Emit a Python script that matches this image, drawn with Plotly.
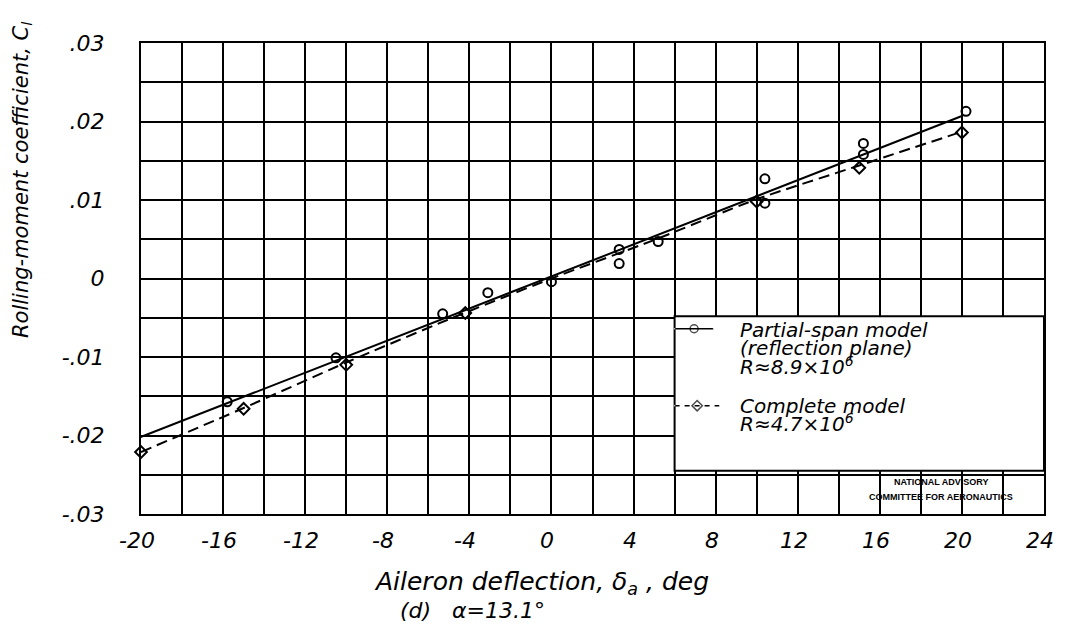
import plotly.graph_objects as go

# --- data ---
# partial-span model (reflection plane), open circles
partial_x = [-21, -15.8, -10.5, -5.3, -3.1, 0, 3.3, 3.3, 5.2, 10.4, 10.4, 15.2, 15.2, 20.2]
partial_y = [-0.0214, -0.0157, -0.0101, -0.0045, -0.0018, -0.0004, 0.0037, 0.0019,
             0.0047, 0.0127, 0.0096, 0.0172, 0.0158, 0.0213]
# complete model, diamonds
complete_x = [-20, -15, -10, -4.2, 10, 15, 20]
complete_y = [-0.0221, -0.0166, -0.0110, -0.0044, 0.0098, 0.0141, 0.0186]

# faired curves
solid_x = [-21, 20]
solid_y = [-0.0212, 0.0207]
dashed_x = [-20, -15, -10, -5, 0, 5, 10, 15, 20]
dashed_y = [-0.0221, -0.0165, -0.0107, -0.0052, 0.0, 0.0049, 0.0101, 0.0144, 0.0187]

# axis ticks (grid every step, labels only on some)
x_gridvals = list(range(-20, 25, 2))
x_labelvals = list(range(-20, 25, 4))
x_labeltext = [str(v) for v in x_labelvals]
y_tickvals = [-0.03, -0.025, -0.02, -0.015, -0.01, -0.005, 0, 0.005, 0.01, 0.015, 0.02, 0.025, 0.03]
y_ticktext = ["-.03", "", "-.02", "", "-.01", "", "0", "", ".01", "", ".02", "", ".03"]

legend_lines_1 = ["Partial-span model", "(reflection plane)", "R≈8.9×10<sup>6</sup>"]
legend_lines_2 = ["Complete model", "R≈4.7×10<sup>6</sup>"]

FONT = "DejaVu Sans"
OFF = 8  # default page body margin
W, H = 1065 - 2 * OFF, 637 - 2 * OFF
# plot area in page pixels: x 141..1044, y 43..514
L, T = 141 - OFF, 43 - OFF
PW, PH = 1044 - 141, 514 - 43
R, B = W - L - PW, H - T - PH


def px_x(px):
    return (px - OFF - L) / PW


def px_y(py):
    return (T + PH - (py - OFF)) / PH


fig = go.Figure()

# legend box (drawn between gridlines and traces)
fig.add_shape(type="rect", x0=6, x1=24, y0=-0.0245, y1=-0.0048,
              fillcolor="white", line=dict(color="black", width=2), layer="between")

fig.add_trace(go.Scatter(
    x=solid_x, y=solid_y, mode="lines",
    line=dict(color="black", width=2), cliponaxis=False, hoverinfo="skip",
))
fig.add_trace(go.Scatter(
    x=dashed_x, y=dashed_y, mode="lines",
    line=dict(color="black", width=2, dash="11px,6px", shape="spline", smoothing=0.6),
    cliponaxis=False, hoverinfo="skip",
))
fig.add_trace(go.Scatter(
    x=partial_x, y=partial_y, mode="markers",
    marker=dict(symbol="circle-open", size=9, color="black", line=dict(width=2)),
    cliponaxis=False, name="Partial-span model",
))
fig.add_trace(go.Scatter(
    x=complete_x, y=complete_y, mode="markers",
    marker=dict(symbol="diamond-open", size=9, color="black", line=dict(width=2)),
    cliponaxis=False, name="Complete model",
))

# legend samples
fig.add_trace(go.Scatter(
    x=[6.0, 6.95, 7.9], y=[-0.0064, -0.0064, -0.0064], mode="lines+markers",
    line=dict(color="black", width=1.5),
    marker=dict(symbol=["line-ew", "circle-open", "line-ew"], size=[1, 8, 1], color="black", line=dict(width=1.5)),
    hoverinfo="skip",
))
fig.add_trace(go.Scatter(
    x=[6.0, 7.1, 8.2], y=[-0.0162, -0.0162, -0.0162], mode="lines+markers",
    line=dict(color="black", width=1.5, dash="5px,5px"),
    marker=dict(symbol=["line-ew", "diamond-open", "line-ew"], size=[1, 8, 1], color="black", line=dict(width=1.5)),
    hoverinfo="skip",
))

ann = []
# x tick labels (as annotations on the x scale so the last one can overhang)
for v, t in zip(x_labelvals, x_labeltext):
    ann.append(dict(text=t, x=v, y=px_y(540), xref="x", yref="paper", xshift=-4,
                    xanchor="center", yanchor="middle", showarrow=False,
                    font=dict(family=FONT, size=22, style="italic", color="black")))

for i, t in enumerate(legend_lines_1):
    ann.append(dict(text=t, x=px_x(738), y=px_y(330 + 18 * i), xref="paper", yref="paper",
                    xanchor="left", yanchor="middle", showarrow=False,
                    font=dict(family=FONT, size=20, style="italic", color="black")))
for i, t in enumerate(legend_lines_2):
    ann.append(dict(text=t, x=px_x(738), y=px_y(406 + 17 * i), xref="paper", yref="paper",
                    xanchor="left", yanchor="middle", showarrow=False,
                    font=dict(family=FONT, size=20, style="italic", color="black")))

# NACA stamp
for t, py in [("NATIONAL ADVISORY", 482), ("COMMITTEE FOR AERONAUTICS", 497)]:
    ann.append(dict(text=t, x=px_x(941), y=px_y(py), xref="paper", yref="paper",
                    xanchor="center", yanchor="middle", showarrow=False,
                    font=dict(family="Liberation Sans", size=9, weight="bold", color="black")))

# axis titles
ann.append(dict(text="Aileron deflection, δ<sub>a</sub> , deg", x=px_x(541), y=px_y(583),
                xref="paper", yref="paper", xanchor="center", yanchor="middle", showarrow=False,
                font=dict(family=FONT, size=25, style="italic", color="black")))
ann.append(dict(text="(d)   α=13.1°", x=px_x(472), y=px_y(610),
                xref="paper", yref="paper", xanchor="center", yanchor="middle", showarrow=False,
                font=dict(family=FONT, size=22, style="italic", color="black")))
ann.append(dict(text="Rolling-moment coefficient, C<sub>l</sub>", x=px_x(22), y=px_y(180),
                xref="paper", yref="paper", xanchor="center", yanchor="middle", showarrow=False,
                textangle=-90,
                font=dict(family=FONT, size=21, style="italic", color="black")))

fig.update_layout(
    width=W, height=H,
    margin=dict(l=L, r=R, t=T, b=B),
    paper_bgcolor="white", plot_bgcolor="white",
    showlegend=False,
    annotations=ann,
    xaxis=dict(
        range=[-20, 24], tickvals=x_gridvals, showticklabels=False,
        showgrid=True, gridcolor="black", gridwidth=2, zeroline=False,
        showline=True, linecolor="black", linewidth=2, mirror=True, ticks="",
    ),
    yaxis=dict(
        range=[-0.03, 0.03], tickvals=y_tickvals, ticktext=y_ticktext,
        showgrid=True, gridcolor="black", gridwidth=2, zeroline=False,
        showline=True, linecolor="black", linewidth=2, mirror=True,
        ticks="", ticklabelstandoff=30,
        tickfont=dict(family=FONT, size=22, style="italic", color="black"),
    ),
)

fig.write_html("out.html", config={"displayModeBar": False})
